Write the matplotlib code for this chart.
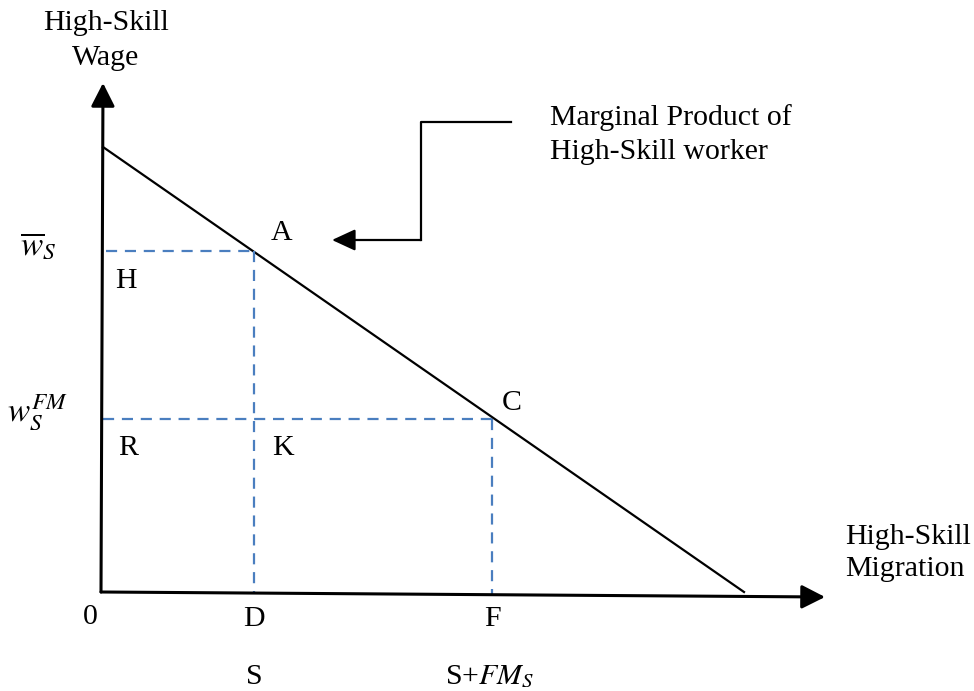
import matplotlib.pyplot as plt

plt.rcParams['font.family'] = ['Liberation Serif', 'DejaVu Serif']
plt.rcParams['mathtext.fontset'] = 'stix'

# diagram coordinates: origin at the corner of the two axes
axis_x_end = [724, -5]      # tip of the migration axis
axis_y_end = [2, 509]       # tip of the wage axis
mp_x = [2, 643]             # marginal product line
mp_y = [445, 0]
S = 153                     # D
S_FM = 391                  # F
w_bar = 341                 # A / H level
w_FM = 173                  # C / R level

fig = plt.figure(figsize=(9.74, 6.91), dpi=100)
ax = fig.add_axes([0, 0, 1, 1])
ax.set_xlim(-101, 873)
ax.set_ylim(-99, 592)
ax.axis('off')

fs = 21.5
black = 'black'
blue = '#4a7ebf'
head = '-|>,head_length=0.65,head_width=0.33'

# axes with arrow heads
ax.annotate('', xy=(axis_y_end[0], axis_y_end[1]), xytext=(0, 0),
            arrowprops=dict(arrowstyle=head, color=black, lw=2.2,
                            mutation_scale=22, shrinkA=0, shrinkB=0))
ax.annotate('', xy=(axis_x_end[0], axis_x_end[1]), xytext=(0, 0),
            arrowprops=dict(arrowstyle=head, color=black, lw=2.2,
                            mutation_scale=22, shrinkA=0, shrinkB=0))

# marginal product curve
ax.plot(mp_x, mp_y, color=black, lw=1.6)

# dashed guides
ax.plot([5, S], [w_bar, w_bar], color=blue, lw=1.6, ls=(0, (5, 3.5)))
ax.plot([S, S], [w_bar, -1], color=blue, lw=1.6, ls=(0, (5, 3.5)))
ax.plot([2, S_FM], [w_FM, w_FM], color=blue, lw=1.6, ls=(0, (5, 3.5)))
ax.plot([S_FM, S_FM], [w_FM, -2], color=blue, lw=1.6, ls=(0, (5, 3.5)))

# callout connector to the curve
conn_x = [410, 320, 320]
conn_y = [470, 470, 352]
ax.plot(conn_x, conn_y, color=black, lw=1.6)
ax.annotate('', xy=(231, 352), xytext=(320, 352),
            arrowprops=dict(arrowstyle='-|>,head_length=0.65,head_width=0.3', color=black, lw=1.6,
                            mutation_scale=22, shrinkA=0, shrinkB=0))

# labels
ax.text(5, 569, 'High-Skill', fontsize=fs, ha='center', va='center')
ax.text(5, 534, 'Wage', fontsize=fs, ha='center', va='center')
ax.text(449, 474, 'Marginal Product of', fontsize=fs, ha='left', va='center')
ax.text(449, 440, 'High-Skill worker', fontsize=fs, ha='left', va='center')
ax.text(744, 55, 'High-Skill', fontsize=fs, ha='left', va='center')
ax.text(744, 23, 'Migration', fontsize=fs, ha='left', va='center')

ax.text(181, 359, 'A', fontsize=fs, ha='center', va='center')
ax.text(411, 189, 'C', fontsize=fs, ha='center', va='center')
ax.text(25, 311, 'H', fontsize=fs, ha='center', va='center')
ax.text(27, 144, 'R', fontsize=fs, ha='center', va='center')
ax.text(182, 144, 'K', fontsize=fs, ha='center', va='center')

ax.text(-63, 345, r'$\overline{w}_S$', fontsize=24, ha='center', va='center')
ax.text(-63, 180, r'$w_S^{FM}$', fontsize=24, ha='center', va='center')

ax.text(-11, -25, '0', fontsize=fs, ha='center', va='center')
ax.text(S, -27, 'D', fontsize=fs, ha='center', va='center')
ax.text(S_FM, -27, 'F', fontsize=fs, ha='center', va='center')
ax.text(S, -85, 'S', fontsize=fs, ha='center', va='center')
ax.text(S_FM - 2, -85, r'S+$FM_S$', fontsize=fs, ha='center', va='center')

fig.savefig('out.png', dpi=100)
